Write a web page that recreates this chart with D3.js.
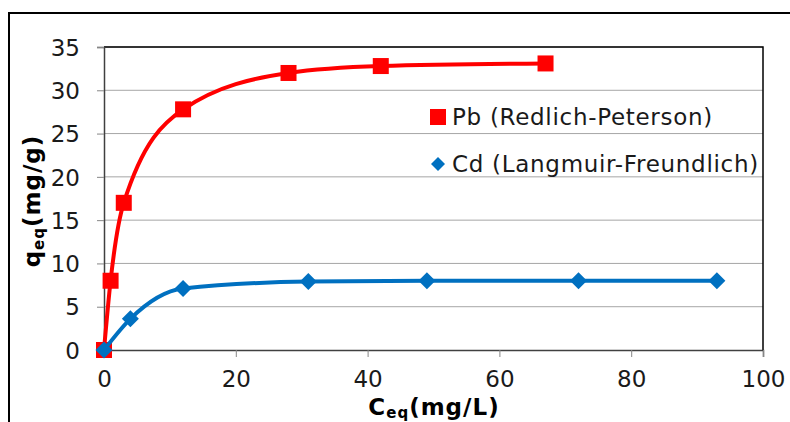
<!DOCTYPE html>
<html>
<head>
<meta charset="utf-8">
<script src="https://cdn.jsdelivr.net/npm/d3@7"></script>
<style>
  html, body { margin: 0; padding: 0; background: #fff; }
  svg { display: block; font-family: "DejaVu Sans", Verdana, sans-serif; }
</style>
</head>
<body>
<svg id="chart" width="790" height="422"></svg>
<script>
// ---- data ----
const pbX = [0, 1, 3, 12, 28, 42, 67];
const pbY = [0, 8, 17, 27.8, 32, 32.8, 33.1];
const cdX = [0, 4, 12, 31, 49, 72, 93];
const cdY = [0, 3.6, 7.1, 7.9, 8.0, 8.0, 8.0];
const seriesNames = ["Pb (Redlich-Peterson)", "Cd (Langmuir-Freundlich)"];
const xTicks = [0, 20, 40, 60, 80, 100];
const yTicks = [0, 5, 10, 15, 20, 25, 30, 35];

// ---- layout ----
const W = 790, H = 422;
const m = { left: 104, top: 47, right: 27, bottom: 72 };
const pw = W - m.left - m.right, ph = H - m.top - m.bottom;
const svg = d3.select("#chart");

// outer chart border
svg.append("path")
  .attr("d", `M9,${H} L9,13 L${W},13`)
  .attr("fill", "none").attr("stroke", "#000").attr("stroke-width", 2);

const x = d3.scaleLinear().domain([0, 100]).range([m.left, m.left + pw]);
const y = d3.scaleLinear().domain([0, 35]).range([m.top + ph, m.top]);

const g = svg.append("g");

// gridlines
g.append("g").selectAll("line").data(yTicks.slice(1)).join("line")
  .attr("x1", m.left).attr("x2", m.left + pw)
  .attr("y1", d => y(d)).attr("y2", d => y(d))
  .attr("stroke", "#a6a6a6").attr("stroke-width", 1);

// plot area border (top/right)
g.append("path")
  .attr("d", `M${m.left},${m.top} L${m.left + pw},${m.top} L${m.left + pw},${m.top + ph}`)
  .attr("fill", "none").attr("stroke", "#000").attr("stroke-width", 1.5);

// axes
const yAxis = d3.axisLeft(y).tickValues(yTicks).tickSize(7).tickPadding(17).tickFormat(d3.format("d"));
const xAxis = d3.axisBottom(x).tickValues(xTicks).tickSize(7).tickPadding(14).tickFormat(d3.format("d"));

const ya = g.append("g").attr("transform", `translate(${m.left},0)`).call(yAxis);
const xa = g.append("g").attr("transform", `translate(0,${m.top + ph})`).call(xAxis);
[ya, xa].forEach(a => {
  a.select(".domain").attr("stroke", "#404040").attr("stroke-width", 1.5);
  a.selectAll(".tick line").attr("stroke", "#868686");
  a.selectAll(".tick text").attr("fill", "#1a1a1a").style("font-size", "23px")
    .style("font-family", "DejaVu Sans, Verdana, sans-serif");
});
ya.selectAll(".tick text").attr("dy", "0.36em");

// series
const line = d3.line().x(d => x(d[0])).y(d => y(d[1])).curve(d3.curveMonotoneX);
const pb = pbX.map((v, i) => [v, pbY[i]]);
const cd = cdX.map((v, i) => [v, cdY[i]]);

const redC = "#ff0000", blueC = "#0070c0";

g.append("path").datum(pb).attr("d", line).attr("fill", "none")
  .attr("stroke", redC).attr("stroke-width", 4).attr("stroke-linejoin", "round");
g.append("g").selectAll("rect").data(pb).join("rect")
  .attr("x", d => x(d[0]) - 8).attr("y", d => y(d[1]) - 8)
  .attr("width", 16).attr("height", 16).attr("fill", redC);

g.append("path").datum(cd).attr("d", line).attr("fill", "none")
  .attr("stroke", blueC).attr("stroke-width", 4).attr("stroke-linejoin", "round");
const diamond = s => `M0,${-s} L${s},0 L0,${s} L${-s},0 Z`;
g.append("g").selectAll("path").data(cd).join("path")
  .attr("transform", d => `translate(${x(d[0])},${y(d[1])})`)
  .attr("d", diamond(8.5)).attr("fill", blueC);

// legend
const lg = svg.append("g");
lg.append("rect").attr("x", 430).attr("y", 109).attr("width", 16).attr("height", 16).attr("fill", redC);
lg.append("text").attr("x", 452).attr("y", 125).text(seriesNames[0])
  .attr("fill", "#1a1a1a").style("font-size", "23px").style("letter-spacing", "0.7px");
lg.append("path").attr("transform", "translate(438,164)").attr("d", diamond(7)).attr("fill", blueC);
lg.append("text").attr("x", 452).attr("y", 172).text(seriesNames[1])
  .attr("fill", "#1a1a1a").style("font-size", "23px").style("letter-spacing", "0.7px");

// axis titles
const xt = svg.append("text").attr("x", 434).attr("y", 415).attr("text-anchor", "middle")
  .attr("font-weight", "bold").style("font-size", "23px").style("letter-spacing", "1px").attr("fill", "#000");
xt.append("tspan").text("C");
xt.append("tspan").text("eq").style("font-size", "15px").attr("dy", 3);
xt.append("tspan").text("(mg/L)").attr("dy", -3);

const yt = svg.append("text").attr("transform", "translate(40,201) rotate(-90)").attr("text-anchor", "middle")
  .attr("font-weight", "bold").style("font-size", "23px").style("letter-spacing", "1px").attr("fill", "#000");
yt.append("tspan").text("q");
yt.append("tspan").text("eq").style("font-size", "15px").attr("dy", 4);
yt.append("tspan").text("(mg/g)").attr("dy", -4);
</script>
</body>
</html>
